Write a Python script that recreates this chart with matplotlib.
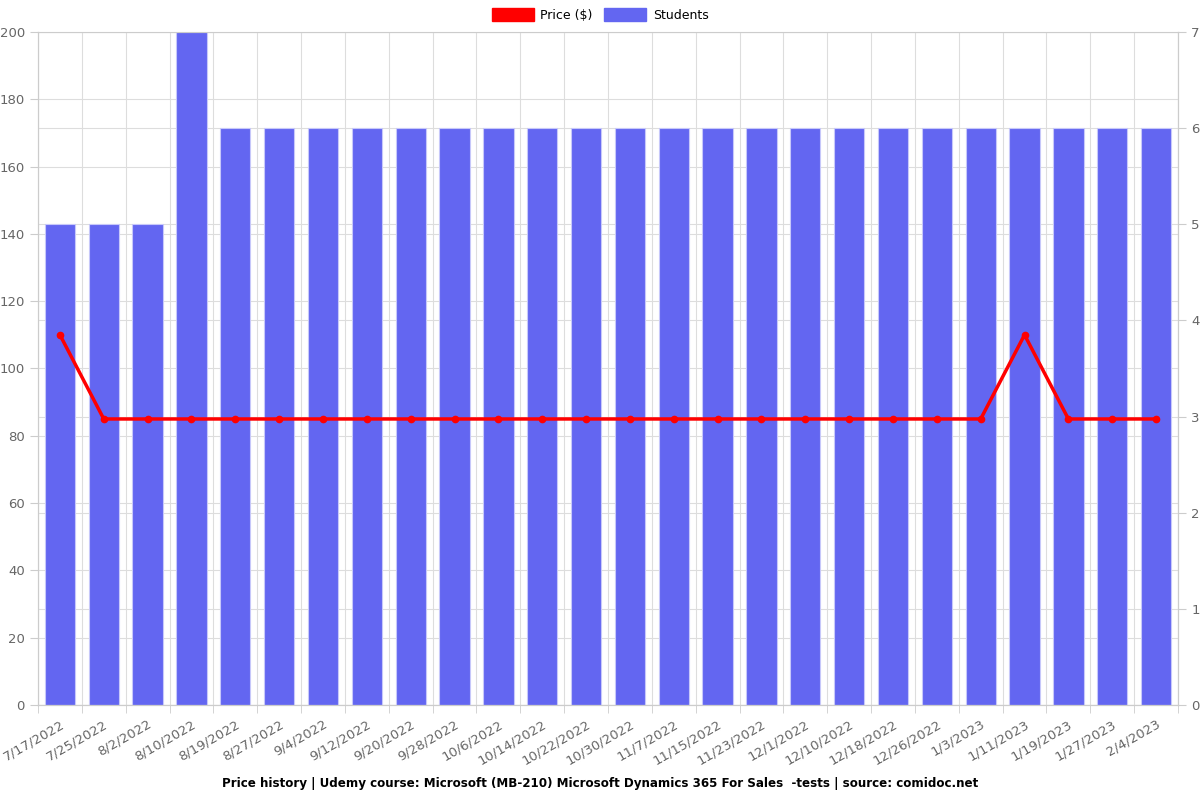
import matplotlib
matplotlib.use("Agg")
import matplotlib.pyplot as plt
import numpy as np
from matplotlib.patches import Patch

dates = ["7/17/2022", "7/25/2022", "8/2/2022", "8/10/2022", "8/19/2022", "8/27/2022",
         "9/4/2022", "9/12/2022", "9/20/2022", "9/28/2022", "10/6/2022", "10/14/2022",
         "10/22/2022", "10/30/2022", "11/7/2022", "11/15/2022", "11/23/2022", "12/1/2022",
         "12/10/2022", "12/18/2022", "12/26/2022", "1/3/2023", "1/11/2023", "1/19/2023",
         "1/27/2023", "2/4/2023"]
students = [5, 5, 5, 7, 6, 6, 6, 6, 6, 6, 6, 6, 6, 6, 6, 6, 6, 6, 6, 6, 6, 6, 6, 6, 6, 6]
price = [110, 85, 85, 85, 85, 85, 85, 85, 85, 85, 85, 85, 85, 85, 85, 85, 85, 85, 85, 85,
         85, 85, 110, 85, 85, 85]

title = "Price history | Udemy course: Microsoft (MB-210) Microsoft Dynamics 365 For Sales  -tests | source: comidoc.net"

fig = plt.figure(figsize=(12, 8), dpi=100)
ax = fig.add_axes([38/1200, 1 - 705/800, (1178-38)/1200, (705-32)/800])
ax2 = ax.twinx()

n = len(dates)
x = np.arange(n)
grid_c = "#dddddd"
tick_c = "#666666"

ax2.bar(x, students, width=0.69, color="#6366F1", edgecolor="#c7c8fa", linewidth=0.8, zorder=2)
ax2.set_ylim(0, 7)
ax2.set_yticks(range(0, 8))
ax2.grid(axis="y", color=grid_c, linewidth=0.8, zorder=0)

ax.set_zorder(ax2.get_zorder() + 1)
ax.patch.set_visible(False)
ax.plot(x, price, color="#ff0000", linewidth=2.5, marker="o", markersize=4.5, zorder=5)
ax.set_ylim(0, 200)
ax.set_yticks(range(0, 201, 20))
ax.set_xlim(-0.5, n - 0.5)

for v in range(0, 201, 20):
    ax2.axhline(v * 7 / 200, color=grid_c, linewidth=0.8, zorder=0)
for b in np.arange(-0.5, n, 1.0):
    ax2.axvline(b, color=grid_c, linewidth=0.8, zorder=0)

ax.set_xticks(x)
ax.set_xticklabels(dates, rotation=30, ha="right", rotation_mode="anchor")
ax.set_xticks(np.arange(-0.5, n, 1.0), minor=True)
ax.tick_params(axis="x", which="major", length=0, pad=9, labelsize=9.5, labelcolor=tick_c)
ax.tick_params(axis="x", which="minor", length=6, color="#cccccc")
ax.tick_params(axis="y", length=6, color="#cccccc", labelsize=9.5, labelcolor=tick_c)
ax2.tick_params(axis="y", length=6, color="#cccccc", labelsize=9.5, labelcolor=tick_c)

for a in (ax, ax2):
    for s in ("left", "right", "bottom", "top"):
        a.spines[s].set_color("#cccccc")
    a.spines["top"].set_visible(False)
ax2.spines["top"].set_visible(True)

handles = [Patch(color="#ff0000", label="Price ($)"), Patch(color="#6366F1", label="Students")]
fig.legend(handles=handles, loc="center", bbox_to_anchor=(0.5, 1 - 15/800), ncol=2,
           frameon=False, fontsize=9, handlelength=3.4, handleheight=1.15,
           columnspacing=0.9, handletextpad=0.5)

fig.text(0.5, 1 - 783/800, title, ha="center", va="center", fontsize=8.6, fontweight="bold")

fig.savefig("out.png", dpi=100)
